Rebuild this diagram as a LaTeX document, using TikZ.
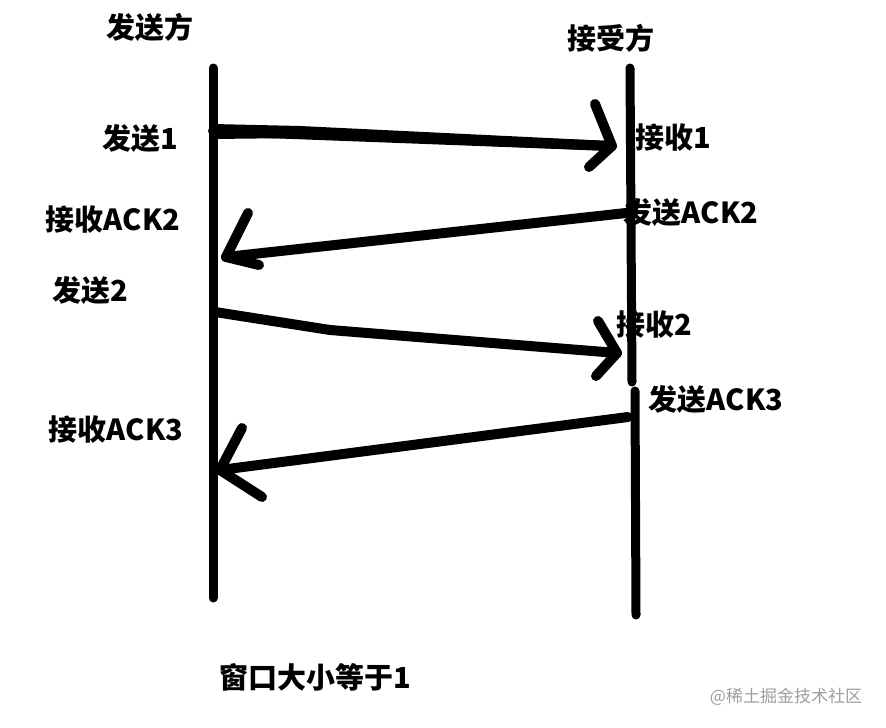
\documentclass[tikz,border=0pt]{standalone}
\usepackage{fontspec}
\newfontfamily\cjk{Noto Sans CJK SC}
\tikzset{
  life/.style={line width=9pt, line cap=round},
  shaft/.style={line width=10pt, line cap=round, line join=round},
  head/.style={line width=10pt, line cap=round, line join=round},
  lbl/.style={inner sep=0pt, font=\cjk\bfseries\fontsize{29}{33}\selectfont, text=black},
  wm/.style={inner sep=0pt, font=\cjk\fontsize{17}{20}\selectfont, text=black!38}
}
\begin{document}
\begin{tikzpicture}[x=1pt,y=-1pt]
\useasboundingbox[fill=white] (0,0) rectangle (886,728);
% labels
\node[lbl] (sender) at (150,27) {发送方};
\node[lbl] (receiver) at (611,38) {接受方};
\node[lbl] (s1) at (140,139) {发送1};
\node[lbl] (r1) at (673,138) {接收1};
\node[lbl] (rack2) at (113,220) {接收ACK2};
\node[lbl] (sack2) at (691,213) {发送ACK2};
\node[lbl] (s2) at (90,291) {发送2};
\node[lbl] (r2) at (654,325) {接收2};
\node[lbl] (sack3) at (716,400) {发送ACK3};
\node[lbl] (rack3) at (116,430) {接收ACK3};
\node[lbl] (caption) at (315,677) {窗口大小等于1};
\node[wm] (mark) at (786,697) {@稀土掘金技术社区};
% lifelines
\coordinate (Ltop) at (213,68);
\coordinate (Lbot) at (213,598);
\coordinate (Rtop) at (630,68);
\coordinate (Rmid1) at (632,382);
\coordinate (Rmid2) at (635,391);
\coordinate (Rbot) at (636,615);
\draw[life] (Ltop) -- (Lbot);
\draw[life] (Rtop) -- (Rmid1);
\draw[life] (Rmid2) -- (Rbot);
% arrow 1
\coordinate (a1s) at (213,131);
\coordinate (a1t) at (612,146);
\coordinate (a1u) at (595,104);
\coordinate (a1d) at (589,167);
\fill (213,124) -- (300,126) -- (610,141) -- (610,151) -- (300,138) -- (213,139) -- cycle;
\draw[shaft] (a1s) -- (a1t);
\draw[head] (a1u) -- (a1t) -- (a1d);
% arrow 2
\coordinate (a2s) at (626,213);
\coordinate (a2t) at (226,257);
\coordinate (a2u) at (248,213);
\coordinate (a2d) at (259,265);
\draw[shaft] (a2s) -- (a2t);
\draw[head] (a2u) -- (a2t) -- (a2d);
% arrow 3
\coordinate (a3s) at (215,312);
\coordinate (a3m) at (330,330);
\coordinate (a3t) at (617,353);
\coordinate (a3u) at (598,321);
\coordinate (a3d) at (596,376);
\draw[shaft] (a3s) -- (a3m) -- (a3t);
\draw[head] (a3u) -- (a3t) -- (a3d);
% arrow 4
\coordinate (a4s) at (628,417);
\coordinate (a4t) at (220,470);
\coordinate (a4u) at (242,428);
\coordinate (a4d) at (262,497);
\draw[shaft] (a4s) -- (a4t);
\draw[head] (a4u) -- (a4t) -- (a4d);
\end{tikzpicture}
\end{document}
